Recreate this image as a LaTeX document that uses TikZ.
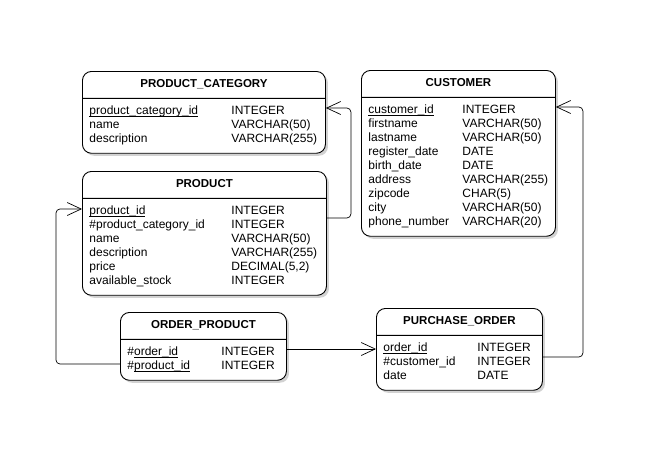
\documentclass[tikz,border=0pt]{standalone}
\usepackage{fontspec}
\setmainfont{Liberation Sans}
\usetikzlibrary{shapes.multipart,shadows,arrows.meta}

\newlength\keycol
\newcommand{\entrow}[2]{\makebox[\keycol][l]{#1}#2}
\newcommand{\keyname}[1]{\underline{\smash{#1}}}
\newcommand{\enttitle}[1]{\makebox[\hsize]{\fontsize{11.5}{14}\selectfont\bfseries\strut #1}}

\begin{document}
\begin{tikzpicture}[x=1pt,y=-1pt,
    entity/.style={rectangle split, rectangle split parts=2, draw, line width=0.9pt,
      rounded corners=9pt, fill=white, anchor=north west,
      drop shadow={opacity=0.35, shadow xshift=2.5pt, shadow yshift=-2.5pt},
      inner xsep=7pt, inner ysep=6pt, font=\fontsize{12}{14}\selectfont},
    fk/.style={draw, line width=0.7pt, rounded corners=4pt,
      -{Straight Barb[length=14pt,width=13pt,line width=0.7pt]}}]
  \useasboundingbox[fill=white] (0,0) rectangle (669,461);

  \node[entity, text width=229pt] (pcat) at (82,71)
    {\enttitle{PRODUCT\_CATEGORY}%
     \nodepart{two}\setlength\keycol{142pt}%
     \strut\entrow{\keyname{product\_category\_id}}{INTEGER}\\
     \entrow{name}{VARCHAR(50)}\\
     \entrow{description}{VARCHAR(255)\strut}};

  \node[entity, text width=230pt] (product) at (82,171)
    {\enttitle{PRODUCT}%
     \nodepart{two}\setlength\keycol{142pt}%
     \strut\entrow{\keyname{product\_id}}{INTEGER}\\
     \entrow{\#product\_category\_id}{INTEGER}\\
     \entrow{name}{VARCHAR(50)}\\
     \entrow{description}{VARCHAR(255)}\\
     \entrow{price}{DECIMAL(5,2)}\\
     \entrow{available\_stock}{INTEGER\strut}};

  \node[entity, text width=180pt] (customer) at (361,70)
    {\enttitle{CUSTOMER}%
     \nodepart{two}\setlength\keycol{94pt}%
     \strut\entrow{\keyname{customer\_id}}{INTEGER}\\
     \entrow{firstname}{VARCHAR(50)}\\
     \entrow{lastname}{VARCHAR(50)}\\
     \entrow{register\_date}{DATE}\\
     \entrow{birth\_date}{DATE}\\
     \entrow{address}{VARCHAR(255)}\\
     \entrow{zipcode}{CHAR(5)}\\
     \entrow{city}{VARCHAR(50)}\\
     \entrow{phone\_number}{VARCHAR(20)\strut}};

  \node[entity, text width=152pt] (ordprod) at (120,312)
    {\enttitle{ORDER\_PRODUCT}%
     \nodepart{two}\setlength\keycol{94pt}%
     \strut\entrow{\#\keyname{order\_id}}{INTEGER}\\
     \entrow{\#\keyname{product\_id}}{INTEGER\strut}};

  \node[entity, text width=152pt] (purchase) at (376,308)
    {\enttitle{PURCHASE\_ORDER}%
     \nodepart{two}\setlength\keycol{94pt}%
     \strut\entrow{\keyname{order\_id}}{INTEGER}\\
     \entrow{\#customer\_id}{INTEGER}\\
     \entrow{date}{DATE\strut}};

  % foreign keys
  \draw[fk] ([yshift=-47pt]product.north east) -- ++(24,0) |- ([yshift=-37pt]pcat.north east);
  \draw[fk] ([yshift=-52pt]ordprod.north west) -- ++(-64,0) |- ([yshift=-38pt]product.north west);
  \draw[fk] ([yshift=-37pt]ordprod.north east) -- ([yshift=-41pt]purchase.north west);
  \draw[fk] ([yshift=-49pt]purchase.north east) -- ++(40,0) |- ([yshift=-37pt]customer.north east);
\end{tikzpicture}
\end{document}
